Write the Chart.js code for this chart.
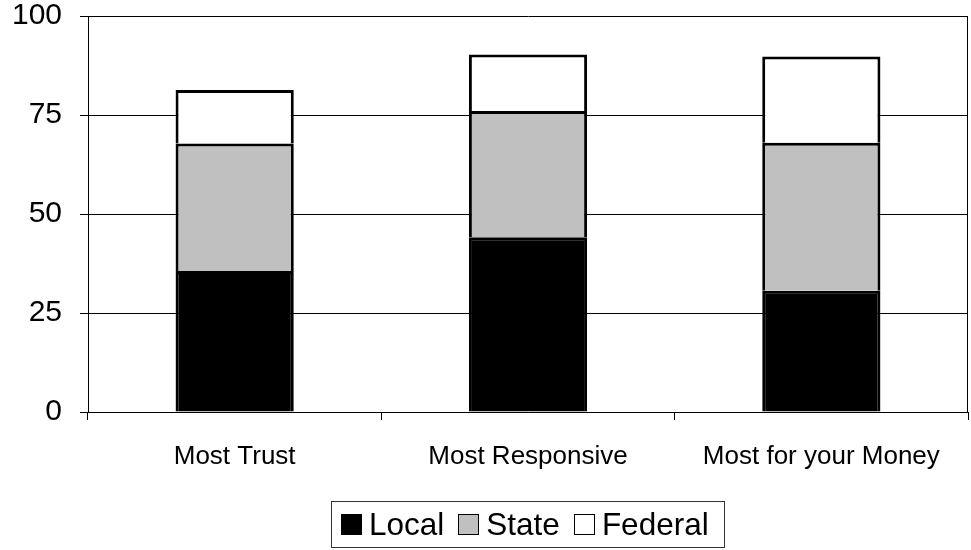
<!DOCTYPE html>
<html>
<head>
<meta charset="utf-8">
<script src="https://cdn.jsdelivr.net/npm/chart.js@4"></script>
<style>
  body { margin: 0; background: #fff; }
  .wrap { position: relative; width: 971px; height: 550px; }
  .legend {
    position: absolute; left: 331px; top: 501px; width: 394px; height: 47px;
    border: 1px solid #333; display: flex; align-items: center;
    font-family: "Liberation Sans", Arial, sans-serif; font-size: 31.5px; color: #000;
    padding-left: 9px; box-sizing: border-box;
  }
  .legend span.box { width: 21px; height: 21px; border: 1px solid #000; margin-right: 7px; box-sizing: border-box; }
  .legend span.txt { margin-right: 14px; }
</style>
</head>
<body>
<div class="wrap">
  <canvas id="chart"></canvas>
  <div class="legend" id="legend"></div>
</div>
<script>
const categories = ["Most Trust", "Most Responsive", "Most for your Money"];
const seriesNames = ["Local", "State", "Federal"];
const localValues = [35.6, 44.1, 30.6];
const stateValues = [32.2, 31.9, 37.4];
const federalValues = [13.5, 14.3, 21.8];
const yTicks = [0, 25, 50, 75, 100];

const colors = ["#000000", "#C0C0C0", "#FFFFFF"];

Chart.defaults.font.family = '"Liberation Sans", Arial, sans-serif';
Chart.defaults.color = "#000";

// right edge of the plot area
const rightBorder = {
  id: "rightBorder",
  afterDraw(chart) {
    const { ctx, chartArea } = chart;
    ctx.save();
    ctx.strokeStyle = "#000";
    ctx.lineWidth = 1;
    ctx.beginPath();
    ctx.moveTo(chartArea.right - 0.5, chartArea.top);
    ctx.lineTo(chartArea.right - 0.5, chartArea.bottom);
    ctx.stroke();
    ctx.restore();
  },
};

const ctx = document.getElementById("chart").getContext("2d");

new Chart(ctx, {
  type: "bar",
  data: {
    labels: categories,
    datasets: [localValues, stateValues, federalValues].map((vals, i) => ({
      label: seriesNames[i],
      data: vals,
      backgroundColor: colors[i],
      borderColor: "#000",
      borderWidth: 3,
      categoryPercentage: 1,
      barPercentage: 0.403,
    })),
  },
  options: {
    responsive: true,
    maintainAspectRatio: false,
    animation: false,
    layout: { padding: { top: 16, right: 3, left: 0, bottom: 0 } },
    plugins: {
      legend: { display: false },
      tooltip: { enabled: false },
    },
    scales: {
      x: {
        stacked: true,
        grid: {
          drawOnChartArea: false,
          drawTicks: true,
          tickLength: 8,
          color: "#000",
        },
        border: { color: "#000" },
        ticks: {
          font: { size: 26, lineHeight: 1.2 },
          padding: 21,
          maxRotation: 0,
        },
        afterFit(scale) {
          scale.height = 138;
          scale.paddingLeft = 0;
          scale.paddingRight = 0;
        },
      },
      y: {
        stacked: true,
        min: 0,
        max: 100,
        afterBuildTicks(scale) {
          scale.ticks = yTicks.map((v) => ({ value: v }));
        },
        grid: { color: "#000", tickLength: 8 },
        border: { color: "#000" },
        ticks: {
          font: { size: 30, lineHeight: 1 },
          padding: 18,
        },
        afterFit(scale) {
          scale.width = 88;
          scale.paddingTop = 0;
          scale.paddingBottom = 0;
        },
      },
    },
  },
  plugins: [rightBorder],
});

// legend box under the chart
const legend = document.getElementById("legend");
seriesNames.forEach((name, i) => {
  const box = document.createElement("span");
  box.className = "box";
  box.style.background = colors[i];
  const txt = document.createElement("span");
  txt.className = "txt";
  txt.textContent = name;
  legend.appendChild(box);
  legend.appendChild(txt);
});
</script>
</body>
</html>
